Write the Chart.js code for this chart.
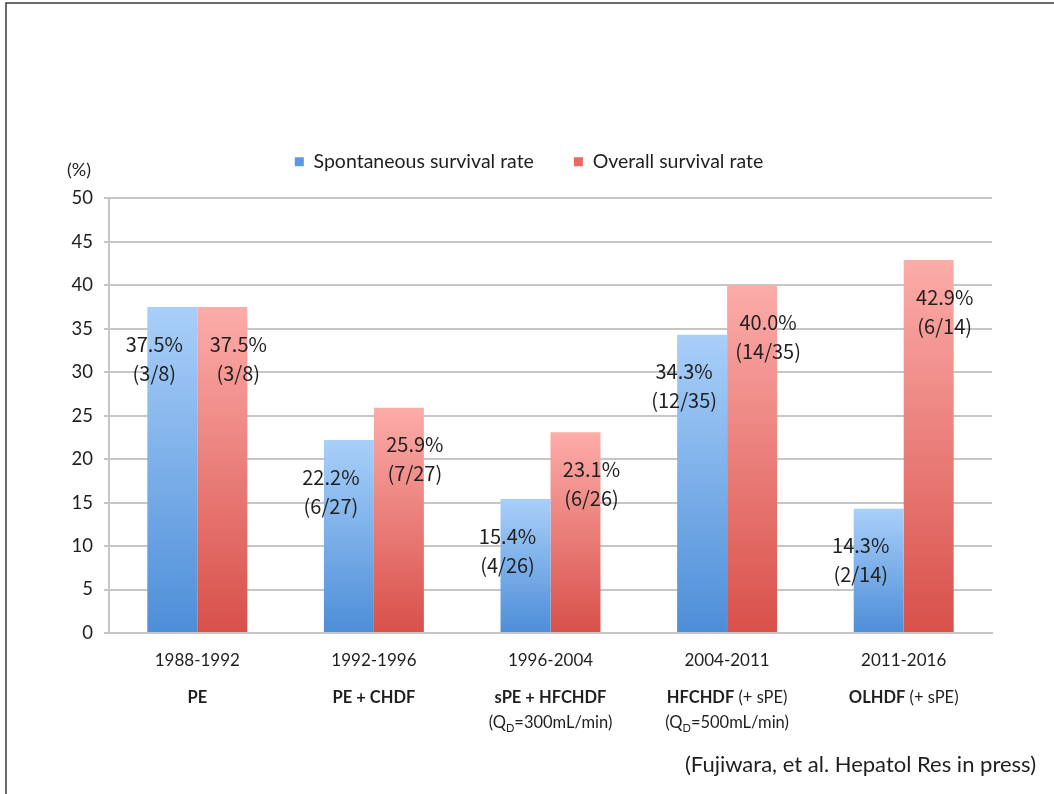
<!DOCTYPE html>
<html>
<head>
<meta charset="utf-8">
<script src="https://cdn.jsdelivr.net/npm/chart.js@4/dist/chart.umd.min.js"></script>
<style>
html,body{margin:0;padding:0;background:#fff;}
#wrap{width:1054px;height:794px;position:relative;}
</style>
</head>
<body>
<div id="wrap"><canvas id="c" width="1054" height="794"></canvas></div>
<script>
// ---- data ----
const periods = ['1988-1992', '1992-1996', '1996-2004', '2004-2011', '2011-2016'];
const therapyBold = ['PE', 'PE + CHDF', 'sPE + HFCHDF', 'HFCHDF', 'OLHDF'];
const therapyNote = ['', '', '', ' (+ sPE)', ' (+ sPE)'];
const dialysateFlow = ['', '', '300mL/min', '500mL/min', ''];
const spontaneousRate = [37.5, 22.2, 15.4, 34.3, 14.3];
const overallRate = [37.5, 25.9, 23.1, 40.0, 42.9];
const spontaneousCounts = ['(3/8)', '(6/27)', '(4/26)', '(12/35)', '(2/14)'];
const overallCounts = ['(3/8)', '(7/27)', '(6/26)', '(14/35)', '(6/14)'];
const seriesNames = ['Spontaneous survival rate', 'Overall survival rate'];
const yMin = 0, yMax = 50, yStep = 5;
const unitLabel = '(%)';
const citation = '(Fujiwara, et al. Hepatol Res in press)';

const AXIS_FONT = 'Lato, "Open Sans", sans-serif';
const LABEL_FONT = '"Noto Sans CJK JP", "Noto Sans", sans-serif';
const TEXT = '#1f1f1f';
const SOLID = ['#5a9ae5', '#e86a63'];

function gradientFill(light, dark, solid) {
  return (c) => {
    const chart = c.chart;
    if (c.type !== 'data' || !chart.chartArea || !chart.scales.y) return solid;
    const ys = chart.scales.y;
    const top = ys.getPixelForValue(c.raw);
    const bottom = ys.getPixelForValue(0);
    if (!isFinite(top) || !isFinite(bottom) || top === bottom) return solid;
    const g = chart.ctx.createLinearGradient(0, top, 0, bottom);
    g.addColorStop(0, light);
    g.addColorStop(1, dark);
    return g;
  };
}

const countLists = [spontaneousCounts, overallCounts];
const labelOffsetX = [-18, 16];

const extras = {
  id: 'extras',
  afterDatasetsDraw(chart) {
    const ctx = chart.ctx;
    ctx.save();
    ctx.fillStyle = TEXT;
    ctx.font = '20px ' + LABEL_FONT;
    ctx.textAlign = 'center';
    ctx.textBaseline = 'middle';
    chart.data.datasets.forEach((ds, di) => {
      const meta = chart.getDatasetMeta(di);
      meta.data.forEach((bar, i) => {
        const x = bar.x + labelOffsetX[di];
        ctx.fillText(ds.data[i].toFixed(1) + '%', x, bar.y + 37);
        ctx.fillText(countLists[di][i], x, bar.y + 66);
      });
    });
    ctx.restore();
  },
  afterDraw(chart) {
    const ctx = chart.ctx;
    const xs = chart.scales.x;
    const area = chart.chartArea;
    ctx.save();
    ctx.fillStyle = TEXT;
    ctx.textBaseline = 'middle';
    const boldFont = 'bold 16.5px ' + AXIS_FONT;
    const normFont = '16.5px ' + AXIS_FONT;
    periods.forEach((p, i) => {
      const cx = xs.getPixelForValue(i);
      ctx.font = boldFont;
      const wb = ctx.measureText(therapyBold[i]).width;
      ctx.font = normFont;
      const wn = ctx.measureText(therapyNote[i]).width;
      const x = cx - (wb + wn) / 2;
      const y2 = area.bottom + 65;
      ctx.textAlign = 'left';
      ctx.font = boldFont;
      ctx.fillText(therapyBold[i], x, y2);
      ctx.font = normFont;
      ctx.fillText(therapyNote[i], x + wb, y2);
      if (dialysateFlow[i]) {
        const y3 = area.bottom + 90;
        const subFont = '11px ' + AXIS_FONT;
        const partA = '(Q';
        const partB = 'D';
        const partC = '=' + dialysateFlow[i] + ')';
        ctx.font = normFont;
        const wa = ctx.measureText(partA).width;
        const wc = ctx.measureText(partC).width;
        ctx.font = subFont;
        const wbb = ctx.measureText(partB).width;
        const x3 = cx - (wa + wbb + wc) / 2;
        ctx.font = normFont;
        ctx.fillText(partA, x3, y3);
        ctx.font = subFont;
        ctx.fillText(partB, x3 + wa, y3 + 5);
        ctx.font = normFont;
        ctx.fillText(partC, x3 + wa + wbb, y3);
      }
    });
    ctx.textAlign = 'left';
    ctx.font = '18px ' + AXIS_FONT;
    ctx.fillText(unitLabel, 67, area.top - 28);
    ctx.textAlign = 'right';
    ctx.font = '22px ' + AXIS_FONT;
    ctx.fillText(citation, 1036, 765);
    ctx.strokeStyle = '#3a3a3a';
    ctx.lineWidth = 1.5;
    ctx.beginPath();
    ctx.moveTo(6, 794);
    ctx.lineTo(6, 3);
    ctx.lineTo(1054, 3);
    ctx.stroke();
    ctx.restore();
  }
};

new Chart(document.getElementById('c'), {
  type: 'bar',
  data: {
    labels: periods,
    datasets: [
      {
        label: seriesNames[0],
        data: spontaneousRate,
        backgroundColor: gradientFill('#a9cff9', '#4d8ed8', SOLID[0]),
        borderWidth: 0
      },
      {
        label: seriesNames[1],
        data: overallRate,
        backgroundColor: gradientFill('#fcaca9', '#d8504a', SOLID[1]),
        borderWidth: 0
      }
    ]
  },
  options: {
    responsive: false,
    animation: false,
    devicePixelRatio: 1,
    layout: { padding: { top: 112, left: 66, right: 62, bottom: 0 } },
    datasets: { bar: { barPercentage: 1.0, categoryPercentage: 0.566 } },
    plugins: {
      legend: {
        position: 'top',
        labels: {
          boxWidth: 9,
          boxHeight: 9,
          padding: 40,
          color: TEXT,
          font: { family: AXIS_FONT, size: 19.5 },
          generateLabels(chart) {
            const items = Chart.defaults.plugins.legend.labels.generateLabels(chart);
            items.forEach((it) => {
              it.fillStyle = SOLID[it.datasetIndex];
              it.strokeStyle = SOLID[it.datasetIndex];
              it.lineWidth = 0;
            });
            return items;
          }
        }
      },
      title: {
        display: true,
        text: ' ',
        weight: 500,
        position: 'top',
        font: { size: 14 },
        padding: { top: 0, bottom: 0 }
      },
      tooltip: { enabled: false }
    },
    scales: {
      x: {
        grid: { display: false, drawTicks: false },
        border: { display: true, color: '#c6c6c6', width: 2 },
        ticks: {
          padding: 17,
          color: TEXT,
          font: { family: AXIS_FONT, size: 17 }
        },
        afterFit(s) { s.height = 161; }
      },
      y: {
        min: yMin,
        max: yMax,
        ticks: {
          stepSize: yStep,
          padding: 11,
          color: TEXT,
          font: { family: AXIS_FONT, size: 18.5 }
        },
        grid: { color: '#c6c6c6', lineWidth: 2, tickLength: 5 },
        border: { color: '#c6c6c6', width: 2 },
        afterFit(s) { s.width = 43; }
      }
    }
  },
  plugins: [extras]
});
</script>
</body>
</html>
